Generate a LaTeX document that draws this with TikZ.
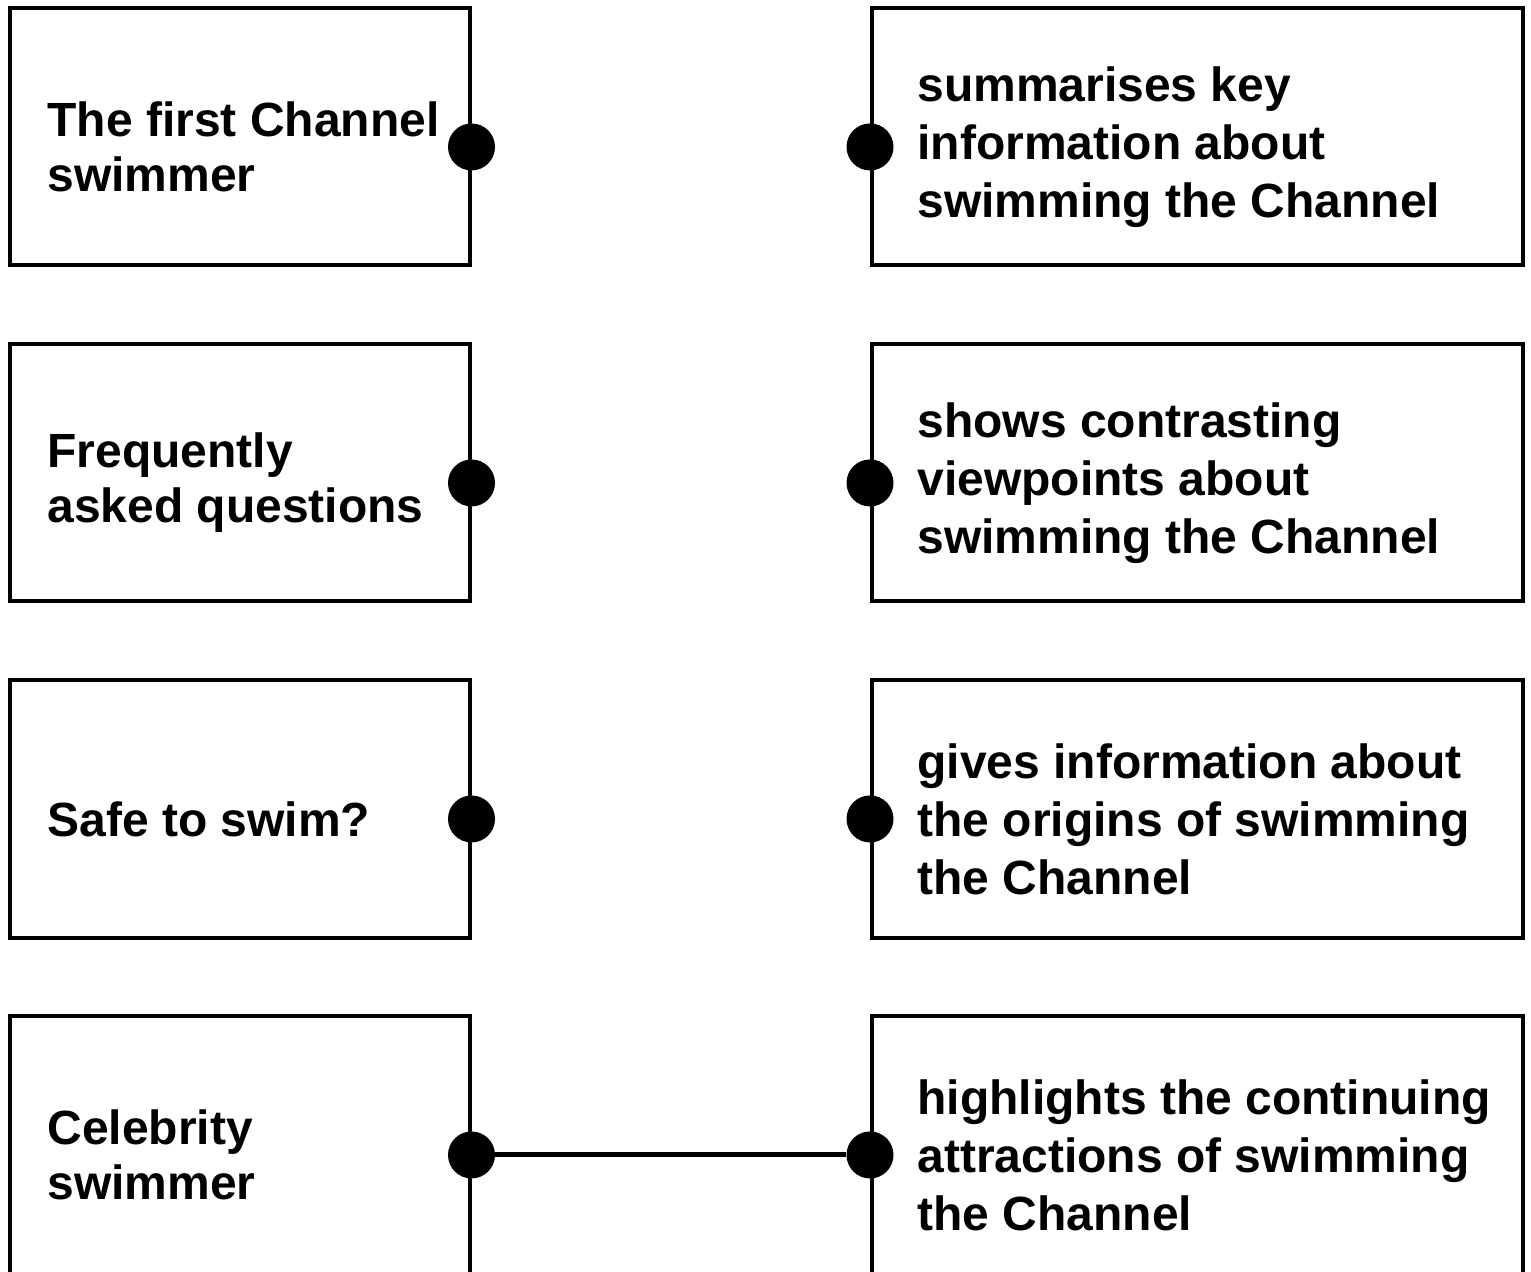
\documentclass[tikz,border=0pt]{standalone}
\usepackage{fontspec}
\setmainfont{Liberation Sans}
\usepackage{tikz}
\usetikzlibrary{positioning,calc}

\begin{document}
\begin{tikzpicture}[x=0.5pt,y=-0.5pt,
    leftbox/.style={draw,line width=2pt,minimum width=229.75pt,minimum height=128.75pt,inner sep=0pt},
    rightbox/.style={draw,line width=2pt,minimum width=325.35pt,minimum height=128.75pt,inner sep=0pt},
    dot/.style={circle,fill=black,minimum size=23.5pt,inner sep=0pt},
    lefttext/.style={anchor=west,align=left,inner sep=0pt,font=\fontsize{24}{27.5}\selectfont\bfseries},
    righttext/.style={anchor=west,align=left,inner sep=0pt,font=\fontsize{24}{29}\selectfont\bfseries}]
    \useasboundingbox (0,0) rectangle (1531,1272);
    \clip (0,0) rectangle (1531,1272);

    % Row 1
    \node[leftbox] (lbox1) at (239.75,136.75) {};
    \node[rightbox] (rbox1) at (1197.35,136.75) {};
    \node[dot] (ldot1) at ([yshift=-5.1pt]lbox1.east) {};
    \node[dot] (rdot1) at ([yshift=-5.1pt]rbox1.west) {};
    \node[lefttext] (ltext1) at ([xshift=19.5pt]lbox1.west |- ldot1) {The first Channel\\swimmer};
    \node[righttext] (rtext1) at ([xshift=23.5pt]rbox1.west |- rdot1) {summarises key\\information about\\swimming the Channel};

    % Row 2
    \node[leftbox] (lbox2) at (239.75,472.75) {};
    \node[rightbox] (rbox2) at (1197.35,472.75) {};
    \node[dot] (ldot2) at ([yshift=-5.1pt]lbox2.east) {};
    \node[dot] (rdot2) at ([yshift=-5.1pt]rbox2.west) {};
    \node[lefttext] (ltext2) at ([xshift=19.5pt]lbox2.west |- ldot2) {Frequently\\asked questions};
    \node[righttext] (rtext2) at ([xshift=23.5pt]rbox2.west |- rdot2) {shows contrasting\\viewpoints about\\swimming the Channel};

    % Row 3
    \node[leftbox] (lbox3) at (239.75,808.75) {};
    \node[rightbox] (rbox3) at (1197.35,808.75) {};
    \node[dot] (ldot3) at ([yshift=-5.1pt]lbox3.east) {};
    \node[dot] (rdot3) at ([yshift=-5.1pt]rbox3.west) {};
    \node[lefttext] (ltext3) at ([xshift=19.5pt]lbox3.west |- ldot3) {Safe to swim?};
    \node[righttext] (rtext3) at ([xshift=23.5pt]rbox3.west |- rdot3) {gives information about\\the origins of swimming\\the Channel};

    % Row 4
    \node[leftbox] (lbox4) at (239.75,1144.75) {};
    \node[rightbox] (rbox4) at (1197.35,1144.75) {};
    \node[dot] (ldot4) at ([yshift=-5.1pt]lbox4.east) {};
    \node[dot] (rdot4) at ([yshift=-5.1pt]rbox4.west) {};
    \node[lefttext] (ltext4) at ([xshift=19.5pt]lbox4.west |- ldot4) {Celebrity\\swimmer};
    \node[righttext] (rtext4) at ([xshift=23.5pt]rbox4.west |- rdot4) {highlights the continuing\\attractions of swimming\\the Channel};

    % Match
    \draw[line width=2.5pt] (ldot4) -- (rdot4);
\end{tikzpicture}
\end{document}
